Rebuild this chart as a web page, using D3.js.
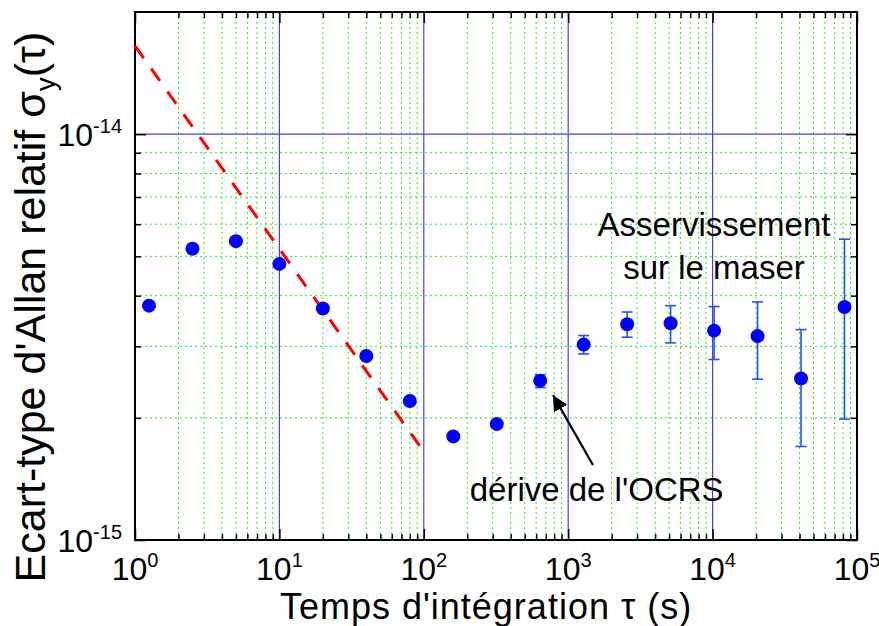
<!DOCTYPE html>
<meta charset="utf-8">
<html lang="fr">
<style>
body { margin: 0; background: #fff; }
text { font-family: "Liberation Sans", Arial, sans-serif; fill: #000; }
.grid-minor { stroke: #22ee22; stroke-width: 1; stroke-dasharray: 2,3; }
.grid-major { stroke: #4040ff; stroke-width: 1.2; }
.fit { fill: none; stroke: #ff0000; stroke-width: 3; stroke-dasharray: 15,13; }
</style>
<body>
<script src="https://d3js.org/d3.v7.min.js"></script>
<script>

// integration times (s) and Allan deviation
var tau = [1.25, 2.5, 5, 10, 20, 40, 80, 160, 320, 640, 1280, 2560, 5120, 10240, 20480, 40960, 81920];
var sigma = [3.78e-15, 5.22e-15, 5.45e-15, 4.79e-15, 3.72e-15, 2.84e-15, 2.20e-15, 1.80e-15, 1.93e-15,
             2.47e-15, 3.03e-15, 3.40e-15, 3.42e-15, 3.28e-15, 3.18e-15, 2.50e-15, 3.75e-15];
// error bars (only for the long taus)
var errLow = [null, null, null, null, null, null, null, null, null,
              2.376e-15, 2.874e-15, 3.16e-15, 3.06e-15, 2.785e-15, 2.49e-15, 1.70e-15, 1.986e-15];
var errHigh = [null, null, null, null, null, null, null, null, null,
               2.553e-15, 3.19e-15, 3.645e-15, 3.78e-15, 3.76e-15, 3.86e-15, 3.30e-15, 5.51e-15];

// tau^-1/2 guide line
var fitLine = [[1, 1.65e-14], [100, 1.65e-15]];

// tick values
var xMajor = [1, 10, 100, 1000, 10000, 100000];
var xExp = ["0", "1", "2", "3", "4", "5"];
var yMajor = [1e-15, 1e-14];
var yExp = ["-15", "-14"];

// annotations
var arrowFrom = [1484, 1.53e-15], arrowTo = [785, 2.275e-15];

var margin = {top: 12, right: 22, bottom: 86, left: 135},
    width = 879 - margin.left - margin.right,
    height = 626 - margin.top - margin.bottom;

var x = d3.scaleLog().domain([1, 1e5]).range([0, width]);
var y = d3.scaleLog().domain([1e-15, 2e-14]).range([height, 0]);

var xMinor = [], yMinor = [];
for (var e = 0; e < 5; e++) for (var k = 2; k <= 9; k++) xMinor.push(k * Math.pow(10, e));
for (var k = 2; k <= 9; k++) yMinor.push(k * 1e-15);

var svg = d3.select("body").append("svg")
    .attr("width", 879)
    .attr("height", 626);

var defs = svg.append("defs");
defs.append("marker")
    .attr("id", "head")
    .attr("viewBox", "0 0 10 10")
    .attr("refX", 10).attr("refY", 5)
    .attr("markerWidth", 7).attr("markerHeight", 7)
    .attr("markerUnits", "strokeWidth")
    .attr("orient", "auto")
  .append("path")
    .attr("d", "M0,0L10,5L0,10z")
    .attr("fill", "#000");

var g = svg.append("g")
    .attr("transform", "translate(" + margin.left + "," + margin.top + ")");

// minor grid
g.selectAll(".gxm").data(xMinor).enter().append("line")
    .attr("class", "grid-minor")
    .attr("x1", function(d) { return x(d); }).attr("x2", function(d) { return x(d); })
    .attr("y1", 0).attr("y2", height);
g.selectAll(".gym").data(yMinor).enter().append("line")
    .attr("class", "grid-minor")
    .attr("y1", function(d) { return y(d); }).attr("y2", function(d) { return y(d); })
    .attr("x1", 0).attr("x2", width);

// major grid
g.selectAll(".gxM").data(xMajor.slice(1, -1)).enter().append("line")
    .attr("class", "grid-major")
    .attr("x1", function(d) { return x(d); }).attr("x2", function(d) { return x(d); })
    .attr("y1", 0).attr("y2", height);
g.selectAll(".gyM").data([1e-14]).enter().append("line")
    .attr("class", "grid-major")
    .attr("y1", function(d) { return y(d); }).attr("y2", function(d) { return y(d); })
    .attr("x1", 0).attr("x2", width);

// axes, ticks pointing inwards (major + minor on all four sides)
var axes = [
  [d3.axisBottom, x, "translate(0," + height + ")", xMajor, xMinor],
  [d3.axisTop, x, "translate(0,0)", xMajor, xMinor],
  [d3.axisLeft, y, "translate(0,0)", yMajor, yMinor],
  [d3.axisRight, y, "translate(" + width + ",0)", yMajor, yMinor]
];
axes.forEach(function(a) {
  [[a[3], 11], [a[4], 6]].forEach(function(t) {
    var s = g.append("g").attr("transform", a[2])
        .call(a[0](a[1]).tickValues(t[0]).tickSize(-t[1]).tickFormat(""));
    s.select(".domain").remove();
    s.selectAll("line").attr("stroke", "#000").attr("stroke-width", 1.5);
  });
});

// frame
g.append("rect")
    .attr("width", width).attr("height", height)
    .attr("fill", "none").attr("stroke", "#000").attr("stroke-width", 2);

// tick labels
var xl = g.selectAll(".xl").data(xMajor).enter().append("text")
    .attr("x", function(d) { return x(d); })
    .attr("y", height + 40)
    .attr("text-anchor", "middle")
    .style("font-size", "32px");
xl.append("tspan").text("10");
xl.append("tspan").attr("dy", -13).style("font-size", "20px")
    .text(function(d, i) { return xExp[i]; });

var yl = g.selectAll(".yl").data(yMajor).enter().append("text")
    .attr("x", -13)
    .attr("y", function(d) { return y(d) + 12; })
    .attr("text-anchor", "end")
    .style("font-size", "32px");
yl.append("tspan").text("10");
yl.append("tspan").attr("dy", -13).style("font-size", "20px")
    .text(function(d, i) { return yExp[i]; });

// axis titles
svg.append("text")
    .attr("x", 486).attr("y", 619)
    .attr("text-anchor", "middle")
    .style("font-size", "36px")
    .style("letter-spacing", "1px")
    .text("Temps d'intégration τ (s)");

var yt = svg.append("text")
    .attr("transform", "translate(45,307) rotate(-90)")
    .attr("text-anchor", "middle")
    .style("font-size", "43px");
yt.append("tspan").text("Ecart-type d'Allan relatif σ");
yt.append("tspan").attr("dy", 10).style("font-size", "28px").text("y");
yt.append("tspan").attr("dy", -10).text("(τ)");

// fit line
g.append("path")
    .datum(fitLine)
    .attr("class", "fit")
    .attr("d", d3.line().x(function(d) { return x(d[0]); }).y(function(d) { return y(d[1]); }));

// error bars
var eb = tau.map(function(t, i) { return {t: t, lo: errLow[i], hi: errHigh[i]}; })
    .filter(function(d) { return d.lo !== null; });
var ebg = g.selectAll(".eb").data(eb).enter().append("g")
    .attr("stroke", "#2a4cff").attr("stroke-width", 1.6);
ebg.append("line")
    .attr("x1", function(d) { return x(d.t); }).attr("x2", function(d) { return x(d.t); })
    .attr("y1", function(d) { return y(d.lo); }).attr("y2", function(d) { return y(d.hi); });
ebg.append("line")
    .attr("x1", function(d) { return x(d.t) - 5.5; }).attr("x2", function(d) { return x(d.t) + 5.5; })
    .attr("y1", function(d) { return y(d.lo); }).attr("y2", function(d) { return y(d.lo); });
ebg.append("line")
    .attr("x1", function(d) { return x(d.t) - 5.5; }).attr("x2", function(d) { return x(d.t) + 5.5; })
    .attr("y1", function(d) { return y(d.hi); }).attr("y2", function(d) { return y(d.hi); });

// points
g.selectAll(".pt").data(tau).enter().append("circle")
    .attr("cx", function(d) { return x(d); })
    .attr("cy", function(d, i) { return y(sigma[i]); })
    .attr("r", 7)
    .attr("fill", "#0000ff");

// annotations
g.append("line")
    .attr("x1", x(arrowFrom[0])).attr("y1", y(arrowFrom[1]))
    .attr("x2", x(arrowTo[0])).attr("y2", y(arrowTo[1]))
    .attr("stroke", "#000").attr("stroke-width", 2.2)
    .attr("marker-end", "url(#head)");

g.append("text")
    .attr("x", x(1574)).attr("y", y(1.249e-15))
    .attr("text-anchor", "middle")
    .style("font-size", "33px")
    .text("dérive de l'OCRS");

g.append("text")
    .attr("x", x(10230)).attr("y", y(5.62e-15))
    .attr("text-anchor", "middle")
    .style("font-size", "33px")
    .text("Asservissement");
g.append("text")
    .attr("x", x(10230)).attr("y", y(4.4e-15))
    .attr("text-anchor", "middle")
    .style("font-size", "33px")
    .text("sur le maser");

</script>
</body>
</html>
